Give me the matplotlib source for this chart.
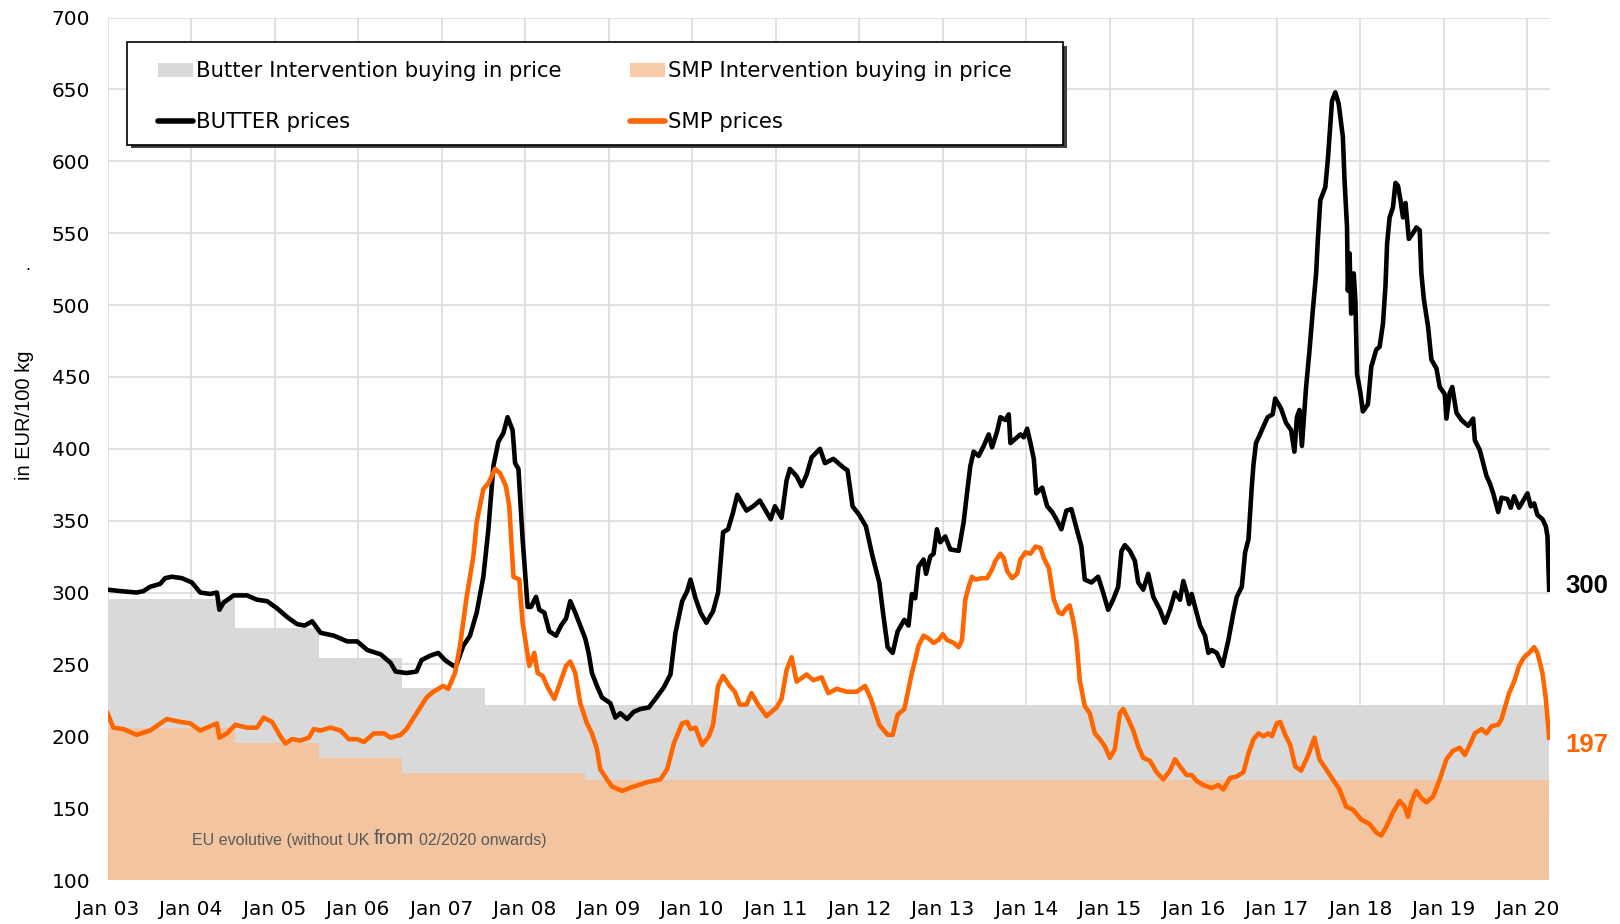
import matplotlib
matplotlib.use("Agg")
import matplotlib.pyplot as plt
from matplotlib.patches import Rectangle, Patch
from matplotlib.lines import Line2D

# butter market price (EUR/100 kg)
butter_t = [2003.00, 2003.15, 2003.35, 2003.43, 2003.51, 2003.63, 2003.69, 2003.77, 2003.89, 2004.01,
            2004.11, 2004.23, 2004.31, 2004.34, 2004.39, 2004.51, 2004.67, 2004.79, 2004.91, 2005.03,
            2005.15, 2005.27, 2005.36, 2005.45, 2005.55, 2005.71, 2005.87, 2005.99, 2006.11, 2006.27,
            2006.39, 2006.45, 2006.58, 2006.70, 2006.76, 2006.86, 2006.96, 2007.04, 2007.14, 2007.18,
            2007.26, 2007.34, 2007.42, 2007.50, 2007.56, 2007.62, 2007.68, 2007.74, 2007.79, 2007.85,
            2007.88, 2007.92, 2007.97, 2008.03, 2008.07, 2008.13, 2008.17, 2008.23, 2008.29, 2008.37,
            2008.43, 2008.49, 2008.54, 2008.60, 2008.66, 2008.72, 2008.76, 2008.80, 2008.86, 2008.92,
            2009.02, 2009.08, 2009.14, 2009.22, 2009.30, 2009.38, 2009.48, 2009.56, 2009.66, 2009.74,
            2009.80, 2009.88, 2009.94, 2009.98, 2010.04, 2010.10, 2010.17, 2010.25, 2010.31, 2010.37,
            2010.43, 2010.49, 2010.54, 2010.65, 2010.73, 2010.81, 2010.89, 2010.94, 2010.99, 2011.07,
            2011.13, 2011.17, 2011.25, 2011.31, 2011.37, 2011.43, 2011.53, 2011.59, 2011.69, 2011.81,
            2011.86, 2011.92, 2012.00, 2012.08, 2012.16, 2012.24, 2012.28, 2012.34, 2012.40, 2012.46,
            2012.54, 2012.59, 2012.63, 2012.67, 2012.71, 2012.77, 2012.80, 2012.85, 2012.89, 2012.93,
            2012.97, 2013.03, 2013.09, 2013.19, 2013.25, 2013.29, 2013.33, 2013.37, 2013.43, 2013.49,
            2013.55, 2013.59, 2013.65, 2013.69, 2013.75, 2013.79, 2013.81, 2013.87, 2013.93, 2013.97,
            2014.01, 2014.05, 2014.09, 2014.12, 2014.19, 2014.25, 2014.31, 2014.36, 2014.42, 2014.48,
            2014.54, 2014.60, 2014.66, 2014.70, 2014.78, 2014.86, 2014.92, 2014.98, 2015.04, 2015.10,
            2015.14, 2015.18, 2015.24, 2015.30, 2015.34, 2015.40, 2015.46, 2015.52, 2015.60, 2015.66,
            2015.72, 2015.78, 2015.84, 2015.88, 2015.92, 2015.95, 2015.98, 2016.02, 2016.08, 2016.14,
            2016.18, 2016.22, 2016.28, 2016.35, 2016.42, 2016.48, 2016.52, 2016.58, 2016.62, 2016.66,
            2016.70, 2016.72, 2016.75, 2016.79, 2016.85, 2016.89, 2016.95, 2016.98, 2017.05, 2017.11,
            2017.17, 2017.21, 2017.24, 2017.27, 2017.30, 2017.35, 2017.39, 2017.43, 2017.47, 2017.49,
            2017.52, 2017.58, 2017.61, 2017.63, 2017.66, 2017.70, 2017.74, 2017.79, 2017.81, 2017.84,
            2017.85, 2017.87, 2017.89, 2017.92, 2017.94, 2017.96, 2018.00, 2018.03, 2018.09, 2018.13,
            2018.19, 2018.23, 2018.27, 2018.30, 2018.32, 2018.35, 2018.39, 2018.42, 2018.45, 2018.48,
            2018.51, 2018.54, 2018.58, 2018.63, 2018.67, 2018.71, 2018.73, 2018.76, 2018.81, 2018.85,
            2018.91, 2018.95, 2019.01, 2019.03, 2019.07, 2019.10, 2019.15, 2019.21, 2019.29, 2019.35,
            2019.37, 2019.43, 2019.47, 2019.51, 2019.55, 2019.59, 2019.65, 2019.69, 2019.76, 2019.80,
            2019.84, 2019.90, 2019.96, 2020.00, 2020.04, 2020.08, 2020.12, 2020.18, 2020.22, 2020.24,
            2020.26]
butter = [302, 301, 300, 301, 304, 306, 310, 311, 310, 307,
          300, 299, 300, 288, 293, 298, 298, 295, 294, 289,
          283, 278, 277, 280, 272, 270, 266, 266, 260, 257,
          251, 245, 244, 245, 253, 256, 258, 253, 249, 250,
          263, 270, 286, 311, 344, 388, 405, 411, 422, 413,
          390, 386, 337, 290, 290, 297, 288, 286, 273, 270,
          277, 282, 294, 286, 277, 268, 258, 244, 235, 227,
          223, 213, 216, 212, 217, 219, 220, 226, 234, 243,
          272, 294, 301, 309, 296, 286, 279, 287, 300, 342,
          344, 356, 368, 357, 360, 364, 356, 351, 360, 352,
          378, 386, 381, 374, 382, 394, 400, 390, 393, 387,
          385, 360, 354, 346, 325, 307, 288, 262, 258, 273,
          281, 277, 299, 296, 318, 323, 313, 325, 327, 344,
          335, 339, 330, 329, 349, 369, 388, 398, 395, 402,
          410, 401, 412, 422, 420, 424, 404, 407, 410, 408,
          414, 404, 393, 369, 373, 360, 356, 351, 344, 357,
          358, 345, 332, 309, 307, 311, 300, 288, 295, 304,
          329, 333, 329, 322, 307, 302, 313, 297, 288, 279,
          288, 300, 295, 308, 300, 292, 299, 290, 277, 270,
          258, 260, 258, 249, 267, 286, 297, 304, 328, 337,
          374, 389, 404, 409, 417, 422, 424, 435, 428, 418,
          413, 398, 422, 427, 402, 443, 468, 496, 522, 545,
          573, 582, 601, 617, 642, 648, 640, 617, 587, 554,
          510, 536, 494, 522, 503, 452, 439, 426, 431, 457,
          469, 471, 487, 513, 543, 561, 568, 585, 583, 573,
          561, 571, 546, 550, 554, 552, 522, 504, 485, 462,
          456, 443, 438, 421, 439, 443, 425, 420, 416, 421,
          406, 399, 390, 381, 376, 369, 356, 366, 365, 359,
          367, 359, 365, 369, 360, 362, 354, 351, 346, 339,
          302]

# SMP market price (EUR/100 kg)
smp_t = [2003.00, 2003.07, 2003.19, 2003.35, 2003.51, 2003.61, 2003.71, 2003.87, 2003.99, 2004.11,
         2004.23, 2004.31, 2004.34, 2004.43, 2004.53, 2004.67, 2004.79, 2004.87, 2004.97, 2005.07,
         2005.13, 2005.21, 2005.31, 2005.41, 2005.47, 2005.55, 2005.67, 2005.79, 2005.89, 2005.99,
         2006.07, 2006.19, 2006.31, 2006.39, 2006.51, 2006.58, 2006.70, 2006.82, 2006.90, 2007.02,
         2007.08, 2007.16, 2007.22, 2007.30, 2007.38, 2007.42, 2007.50, 2007.56, 2007.64, 2007.70,
         2007.77, 2007.81, 2007.86, 2007.93, 2007.97, 2008.05, 2008.11, 2008.15, 2008.21, 2008.27,
         2008.35, 2008.43, 2008.49, 2008.54, 2008.60, 2008.66, 2008.74, 2008.80, 2008.86, 2008.90,
         2008.98, 2009.04, 2009.16, 2009.30, 2009.46, 2009.62, 2009.70, 2009.78, 2009.88, 2009.94,
         2009.98, 2010.04, 2010.12, 2010.20, 2010.25, 2010.31, 2010.37, 2010.45, 2010.51, 2010.57,
         2010.65, 2010.71, 2010.79, 2010.89, 2011.01, 2011.07, 2011.13, 2011.19, 2011.25, 2011.37,
         2011.45, 2011.55, 2011.63, 2011.73, 2011.85, 2011.97, 2012.07, 2012.14, 2012.24, 2012.34,
         2012.40, 2012.46, 2012.54, 2012.63, 2012.67, 2012.71, 2012.77, 2012.83, 2012.89, 2012.95,
         2013.00, 2013.05, 2013.13, 2013.19, 2013.23, 2013.27, 2013.31, 2013.35, 2013.39, 2013.47,
         2013.53, 2013.59, 2013.63, 2013.69, 2013.73, 2013.77, 2013.83, 2013.89, 2013.93, 2013.99,
         2014.05, 2014.11, 2014.17, 2014.21, 2014.27, 2014.33, 2014.39, 2014.43, 2014.48, 2014.52,
         2014.56, 2014.60, 2014.64, 2014.70, 2014.76, 2014.82, 2014.88, 2014.94, 2015.00, 2015.06,
         2015.12, 2015.16, 2015.22, 2015.28, 2015.34, 2015.40, 2015.48, 2015.56, 2015.64, 2015.72,
         2015.78, 2015.84, 2015.92, 2015.98, 2016.04, 2016.12, 2016.22, 2016.30, 2016.36, 2016.44,
         2016.52, 2016.60, 2016.66, 2016.72, 2016.78, 2016.84, 2016.90, 2016.94, 2017.00, 2017.04,
         2017.10, 2017.16, 2017.22, 2017.29, 2017.37, 2017.45, 2017.51, 2017.59, 2017.67, 2017.75,
         2017.83, 2017.91, 2018.01, 2018.11, 2018.19, 2018.25, 2018.31, 2018.39, 2018.47, 2018.53,
         2018.57, 2018.61, 2018.67, 2018.73, 2018.79, 2018.87, 2018.95, 2019.03, 2019.11, 2019.19,
         2019.25, 2019.31, 2019.37, 2019.45, 2019.51, 2019.57, 2019.65, 2019.69, 2019.73, 2019.78,
         2019.84, 2019.90, 2019.96, 2020.02, 2020.08, 2020.12, 2020.18, 2020.22, 2020.26]
smp = [216, 206, 205, 201, 204, 208, 212, 210, 209, 204,
       207, 209, 199, 202, 208, 206, 206, 213, 210, 200,
       195, 198, 197, 199, 205, 204, 206, 204, 198, 198,
       196, 202, 202, 199, 201, 205, 216, 227, 231, 235,
       233, 244, 263, 297, 325, 349, 372, 376, 386, 383,
       374, 360, 311, 309, 279, 249, 258, 244, 242, 234,
       226, 239, 249, 252, 244, 223, 209, 202, 191, 177,
       170, 165, 162, 165, 168, 170, 177, 195, 209, 210,
       205, 206, 194, 200, 208, 235, 242, 235, 231, 222,
       222, 230, 222, 214, 220, 226, 246, 255, 238, 243,
       239, 241, 230, 233, 231, 231, 235, 226, 208, 201,
       201, 215, 219, 244, 253, 263, 270, 268, 265, 267,
       271, 267, 265, 262, 267, 295, 304, 311, 309, 310,
       310, 316, 322, 327, 324, 315, 310, 313, 323, 328,
       327, 332, 331, 324, 317, 295, 286, 285, 289, 291,
       281, 267, 239, 221, 216, 202, 198, 193, 185, 191,
       216, 219, 212, 204, 193, 185, 183, 175, 170, 176,
       184, 179, 173, 173, 169, 166, 164, 166, 163, 171,
       172, 175, 188, 198, 202, 200, 202, 200, 209, 210,
       201, 194, 179, 176, 186, 199, 184, 177, 170, 163,
       151, 149, 142, 139, 133, 131, 137, 147, 155, 151,
       144, 154, 162, 157, 154, 158, 170, 184, 190, 192,
       187, 194, 202, 205, 202, 207, 208, 212, 220, 230,
       238, 249, 255, 258, 262, 258, 244, 226, 199]

# intervention buying-in prices (step changes)
butter_iv_t = [2003.00, 2004.53, 2005.53, 2006.52, 2007.52, 2020.26]
butter_iv = [295.4, 275.4, 254.5, 233.8, 221.8, 221.8]
smp_iv_t = [2003.00, 2004.53, 2005.53, 2006.52, 2008.72, 2020.26]
smp_iv = [205.5, 195.2, 185.0, 174.7, 169.8, 169.8]

tick_years = [2003, 2004, 2005, 2006, 2007, 2008, 2009, 2010, 2011, 2012,
              2013, 2014, 2015, 2016, 2017, 2018, 2019, 2020]
tick_labels = ["Jan 03", "Jan 04", "Jan 05", "Jan 06", "Jan 07", "Jan 08", "Jan 09", "Jan 10", "Jan 11",
               "Jan 12", "Jan 13", "Jan 14", "Jan 15", "Jan 16", "Jan 17", "Jan 18", "Jan 19", "Jan 20"]
end_labels = ["300", "197"]

GREY = "#D9D9D9"
PEACH = "#F2C5A0"
ORANGE = "#FF6600"

fig = plt.figure(figsize=(16.2, 9.24), dpi=100)
ax = fig.add_axes([107.5 / 1620, 1 - 880 / 924, 1442.5 / 1620, 862.4 / 924])

ax.fill_between(butter_iv_t, 100, butter_iv, step="post", color=GREY, lw=0, zorder=1)
ax.fill_between(smp_iv_t, 100, smp_iv, step="post", color=PEACH, lw=0, zorder=1.1)
ax.plot(butter_t, butter, color="black", lw=3.3, zorder=3, solid_joinstyle="round")
ax.plot(smp_t, smp, color=ORANGE, lw=3.3, zorder=4, solid_joinstyle="round")

ax.set_xlim(2003.0, 2020.27)
ax.set_ylim(100, 700)
ax.set_yticks(range(100, 701, 50))
ax.set_xticks(tick_years)
ax.set_xticklabels(tick_labels)
ax.set_axisbelow(True)
ax.grid(True, color=GREY, lw=1.1)
for s in ax.spines.values():
    s.set_visible(False)
ax.tick_params(axis="both", length=0, labelsize=14.5, colors="black")
ax.tick_params(axis="y", pad=12.5)
ax.tick_params(axis="x", pad=14.5)

# end-of-series labels
end_kw = dict(textcoords="offset pixels", ha="left", va="center", fontsize=18.5, fontweight="bold",
              family=["Liberation Sans", "DejaVu Sans"], annotation_clip=False)
ax.annotate(end_labels[0], xy=(butter_t[-1], butter[-1]), xytext=(16, 4), color="black", **end_kw)
ax.annotate(end_labels[1], xy=(smp_t[-1], smp[-1]), xytext=(16, -7), color=ORANGE, **end_kw)

# note inside the SMP area
note_kw = dict(color="#595959", family=["Liberation Sans", "DejaVu Sans"], va="bottom")
t1 = fig.text(192 / 1620, 1 - 848.5 / 924, "EU evolutive (without UK", fontsize=11.5, **note_kw)
t2 = ax.annotate("from", xy=(1, 0), xycoords=t1, xytext=(4.5, 0), textcoords="offset pixels",
                 fontsize=14.5, **note_kw)
ax.annotate("02/2020 onwards)", xy=(1, 0), xycoords=t2, xytext=(4.5, 0), textcoords="offset pixels",
            fontsize=11.5, **note_kw)

fig.text(25 / 1620, 1 - 415 / 924, "in EUR/100 kg", rotation=90, ha="center", va="center",
         fontsize=14.5, family=["Liberation Sans", "DejaVu Sans"])
fig.text(28 / 1620, 1 - 270 / 924, ".", ha="center", va="baseline", fontsize=13,
         family=["Liberation Sans", "DejaVu Sans"])

# legend frame with drop shadow
ax.add_patch(Rectangle((131 / 1620, 1 - 148 / 924), 936 / 1620, 102 / 924, transform=fig.transFigure,
                       facecolor="#404040", edgecolor="none", clip_on=False, zorder=5))
ax.add_patch(Rectangle((127 / 1620, 1 - 144.5 / 924), 936 / 1620, 102.5 / 924, transform=fig.transFigure,
                       facecolor="white", edgecolor="black", lw=1.2, clip_on=False, zorder=5.1))

handles = [Patch(facecolor=GREY, edgecolor="none"),
           Line2D([], [], color="black", lw=4, solid_capstyle="round"),
           Patch(facecolor="#F8CBA8", edgecolor="none"),
           Line2D([], [], color=ORANGE, lw=4, solid_capstyle="round")]
labels = ["Butter Intervention buying in price", "BUTTER prices",
          "SMP Intervention buying in price", "SMP prices"]
leg = ax.legend(handles, labels, ncol=2, loc="upper left",
                bbox_to_anchor=(158 / 1620, 1 - 61 / 924), bbox_transform=fig.transFigure,
                frameon=False, borderpad=0, borderaxespad=0, handlelength=1.65, handleheight=0.65,
                handletextpad=0.15, columnspacing=3.25, labelspacing=1.46, prop={"size": 15.2})
leg.set_zorder(6)

fig.savefig("out.png", dpi=100)
